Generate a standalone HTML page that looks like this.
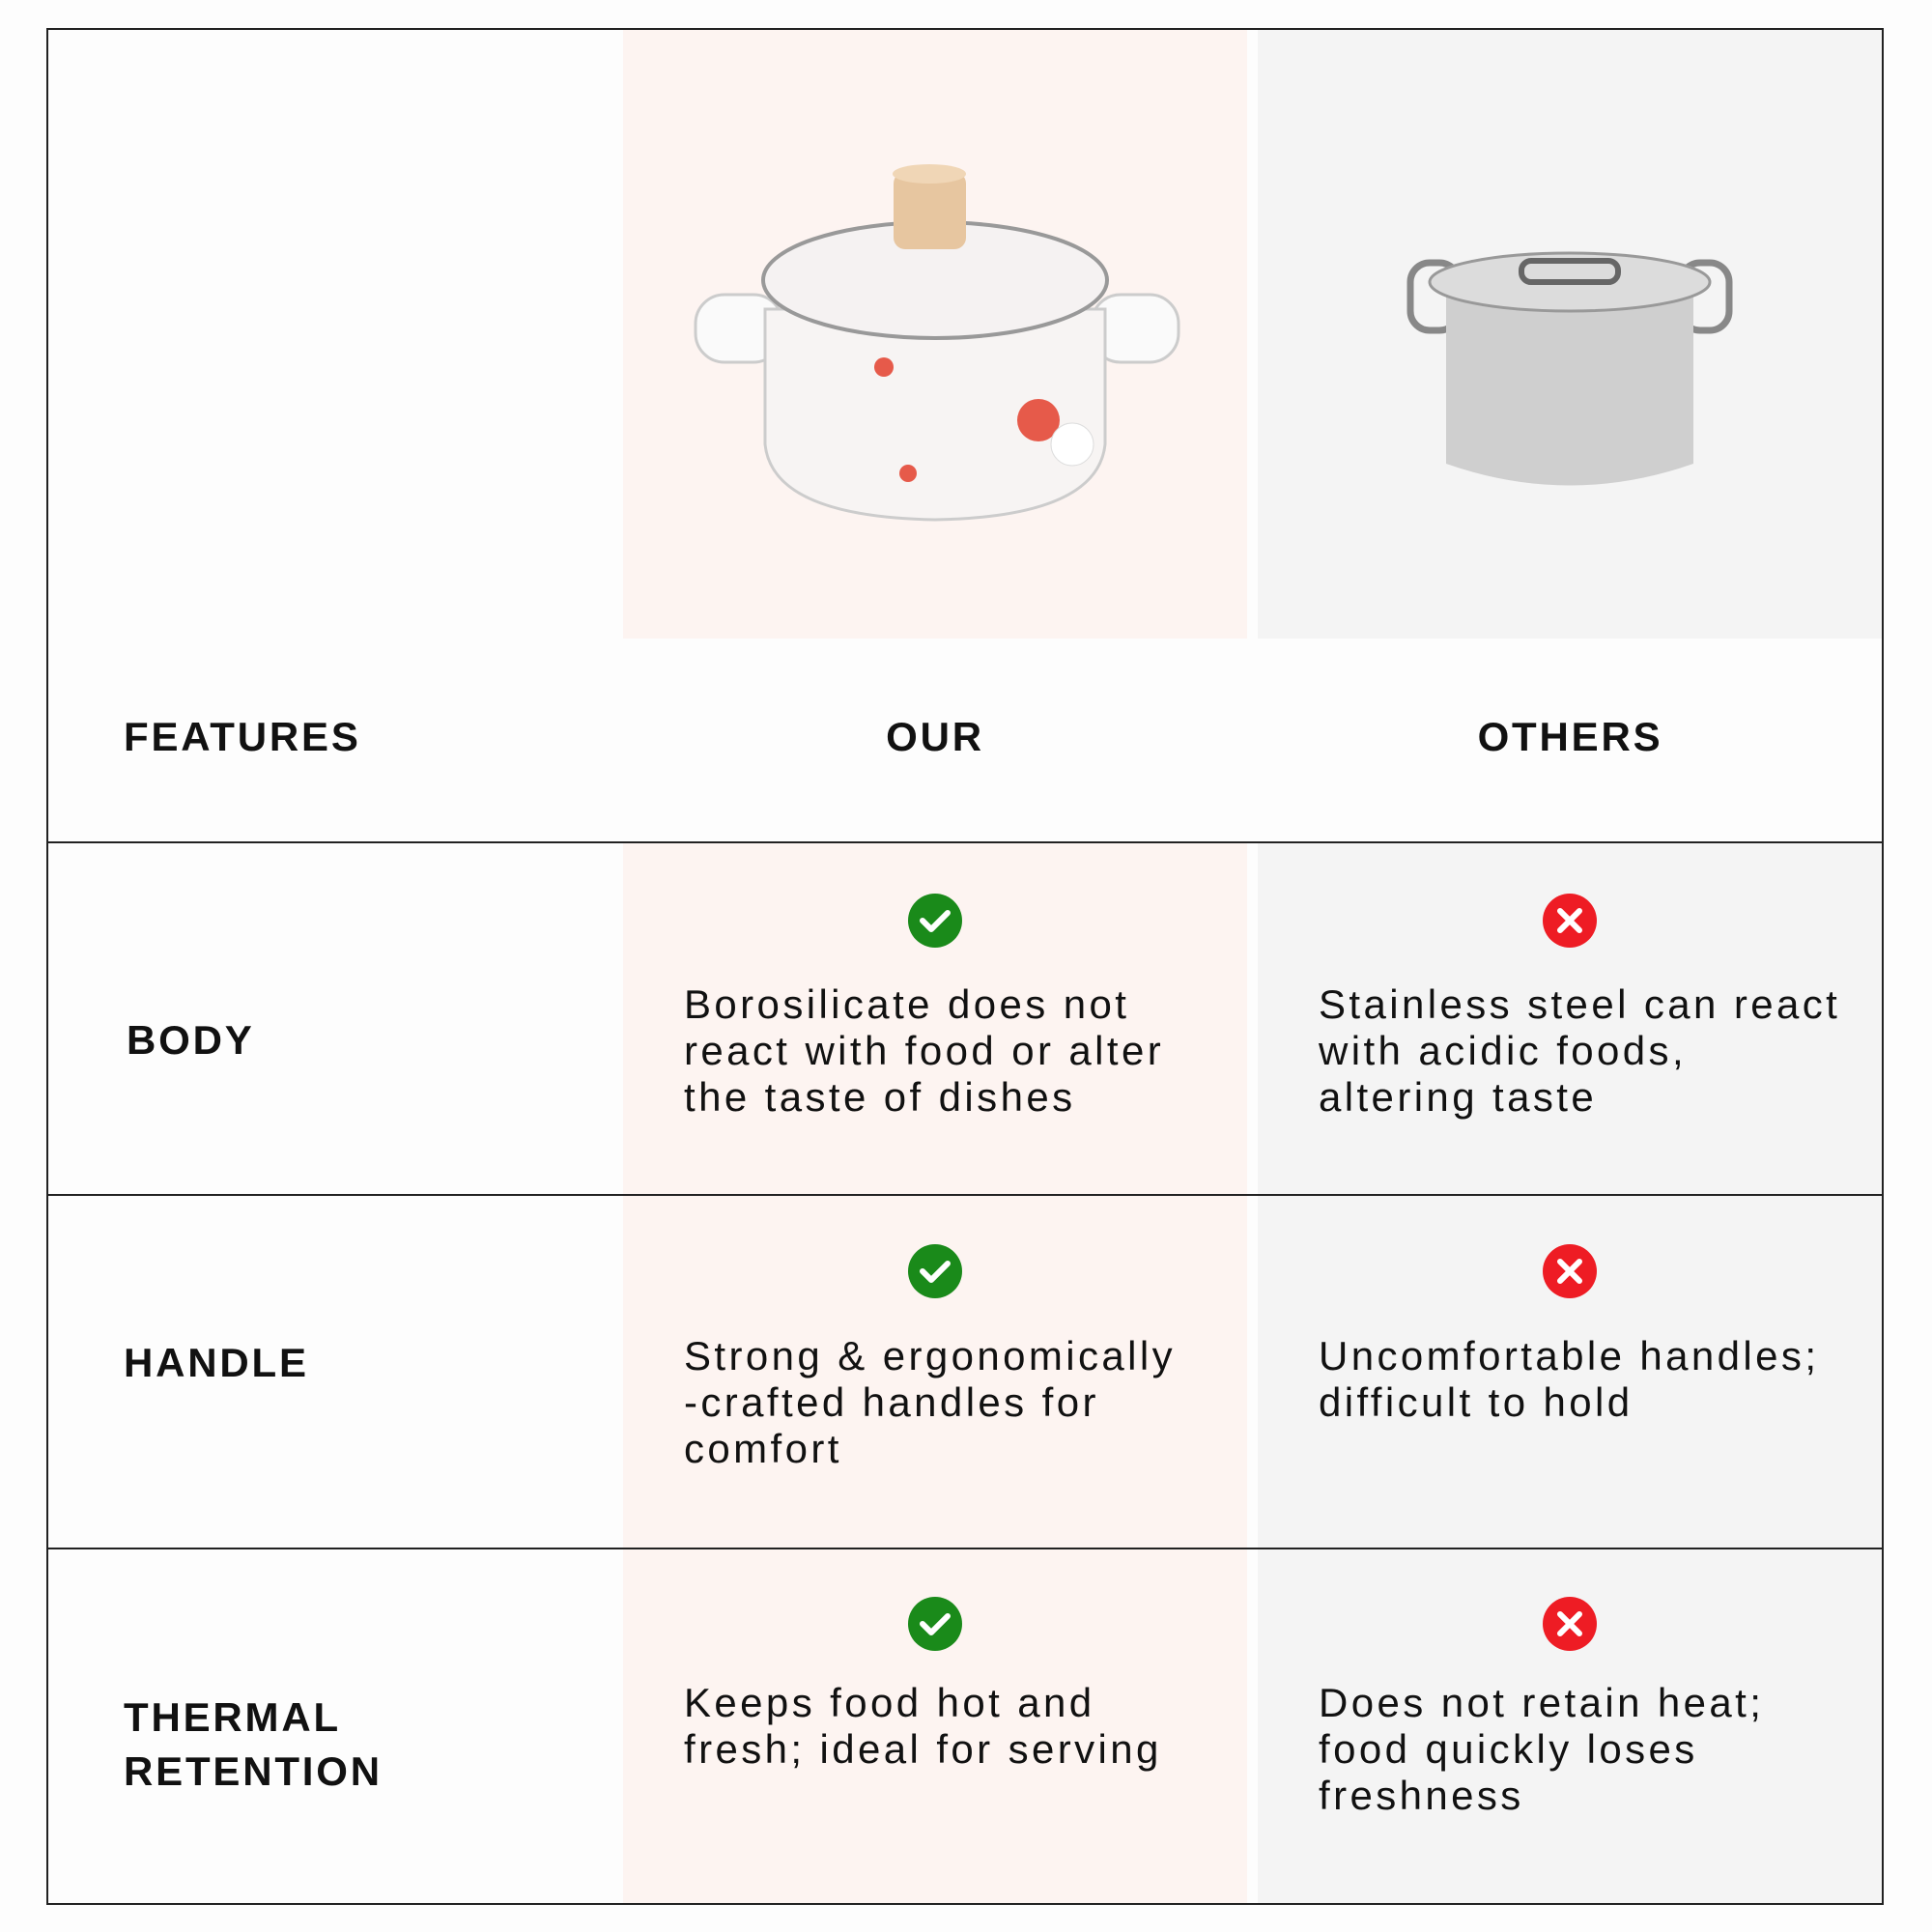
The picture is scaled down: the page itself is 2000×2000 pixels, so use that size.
<!DOCTYPE html>
<html><head><meta charset="utf-8"><style>
*{margin:0;padding:0;box-sizing:border-box}
body{width:2000px;height:2000px;background:#fdfdfd;position:relative;overflow:hidden;font-family:"Liberation Sans",sans-serif;color:#111}
.a{position:absolute}
.lbl{font-weight:bold;font-size:42px;letter-spacing:2.8px;line-height:56px}
.t{font-size:42px;line-height:48px;letter-spacing:3.4px;white-space:nowrap}
.ic{position:absolute;width:56px;height:56px;border-radius:50%}
.g{background:#1a8a1a}.r{background:#ee1c24}
</style></head><body>
<div class="a" style="left:645px;top:29px;width:646px;height:1942px;background:#fdf4f1"></div>
<div class="a" style="left:1302px;top:29px;width:647px;height:1942px;background:#f4f4f4"></div>
<div class="a" style="left:645px;top:661px;width:1304px;height:211px;background:#fdfdfd"></div>
<div class="a" style="left:48px;top:29px;width:1902px;height:1943px;border:2px solid #222"></div>
<div class="a" style="left:48px;top:871px;width:1902px;height:2px;background:#222"></div>
<div class="a" style="left:48px;top:1236px;width:1902px;height:2px;background:#222"></div>
<div class="a" style="left:48px;top:1602px;width:1902px;height:2px;background:#222"></div>

<svg class="a" style="left:700px;top:160px" width="540" height="400" viewBox="0 0 540 400">
<rect x="20" y="145" width="90" height="70" rx="30" fill="#fafafa" stroke="#ccc" stroke-width="3"/>
<rect x="430" y="145" width="90" height="70" rx="30" fill="#fafafa" stroke="#ccc" stroke-width="3"/>
<path d="M92 160 L92 300 Q100 375 268 378 Q436 375 444 300 L444 160 Z" fill="#f7f4f3" stroke="#ccc" stroke-width="3"/>
<ellipse cx="268" cy="130" rx="178" ry="60" fill="#f5f2f2" stroke="#999" stroke-width="4"/>
<rect x="225" y="18" width="75" height="80" rx="12" fill="#e7c6a0"/>
<ellipse cx="262" cy="20" rx="38" ry="10" fill="#f0d6b6"/>
<circle cx="375" cy="275" r="22" fill="#e65a4a"/><circle cx="215" cy="220" r="10" fill="#e65a4a"/><circle cx="240" cy="330" r="9" fill="#e65a4a"/>
<circle cx="410" cy="300" r="22" fill="#fff" stroke="#ddd"/>
</svg>
<svg class="a" style="left:1455px;top:250px" width="340" height="270" viewBox="0 0 340 270">
<rect x="5" y="22" width="50" height="70" rx="20" fill="none" stroke="#888" stroke-width="7"/>
<rect x="285" y="22" width="50" height="70" rx="20" fill="none" stroke="#888" stroke-width="7"/>
<path d="M42 45 L42 230 Q170 275 298 230 L298 45 Z" fill="#cfcfcf"/>
<ellipse cx="170" cy="42" rx="145" ry="30" fill="#dcdcdc" stroke="#999" stroke-width="3"/>
<rect x="120" y="20" width="100" height="22" rx="10" fill="none" stroke="#666" stroke-width="6"/>
</svg>

<div class="a lbl" style="left:128px;top:735px">FEATURES</div>
<div class="a lbl" style="left:645px;width:646px;text-align:center;top:735px">OUR</div>
<div class="a lbl" style="left:1302px;width:647px;text-align:center;top:735px">OTHERS</div>
<div class="a lbl" style="left:131px;top:1049px">BODY</div>
<div class="a lbl" style="left:128px;top:1383px">HANDLE</div>
<div class="a lbl" style="left:128px;top:1750px">THERMAL<br>RETENTION</div>

<div class="ic g" style="left:940px;top:925px"></div>
<div class="ic r" style="left:1597px;top:925px"></div>
<div class="ic g" style="left:940px;top:1288px"></div>
<div class="ic r" style="left:1597px;top:1288px"></div>
<div class="ic g" style="left:940px;top:1653px"></div>
<div class="ic r" style="left:1597px;top:1653px"></div>
<svg class="a" style="left:0;top:0" width="2000" height="2000">
<g fill="none" stroke="#fff" stroke-width="6" stroke-linecap="round" stroke-linejoin="round">
<path d="M955 953 l9 9 l17 -17"/><path d="M955 1316 l9 9 l17 -17"/><path d="M955 1681 l9 9 l17 -17"/>
<path d="M1615 943 l20 20 M1635 943 l-20 20"/><path d="M1615 1306 l20 20 M1635 1306 l-20 20"/><path d="M1615 1671 l20 20 M1635 1671 l-20 20"/>
</g></svg>

<div class="a t" style="left:708px;top:1016px">Borosilicate does not<br>react with food or alter<br>the taste of dishes</div>
<div class="a t" style="left:1365px;top:1016px">Stainless steel can react<br>with acidic foods,<br>altering taste</div>
<div class="a t" style="left:708px;top:1380px">Strong &amp; ergonomically<br>-crafted handles for<br>comfort</div>
<div class="a t" style="left:1365px;top:1380px">Uncomfortable handles;<br>difficult to hold</div>
<div class="a t" style="left:708px;top:1739px">Keeps food hot and<br>fresh; ideal for serving</div>
<div class="a t" style="left:1365px;top:1739px">Does not retain heat;<br>food quickly loses<br>freshness</div>
</body></html>
